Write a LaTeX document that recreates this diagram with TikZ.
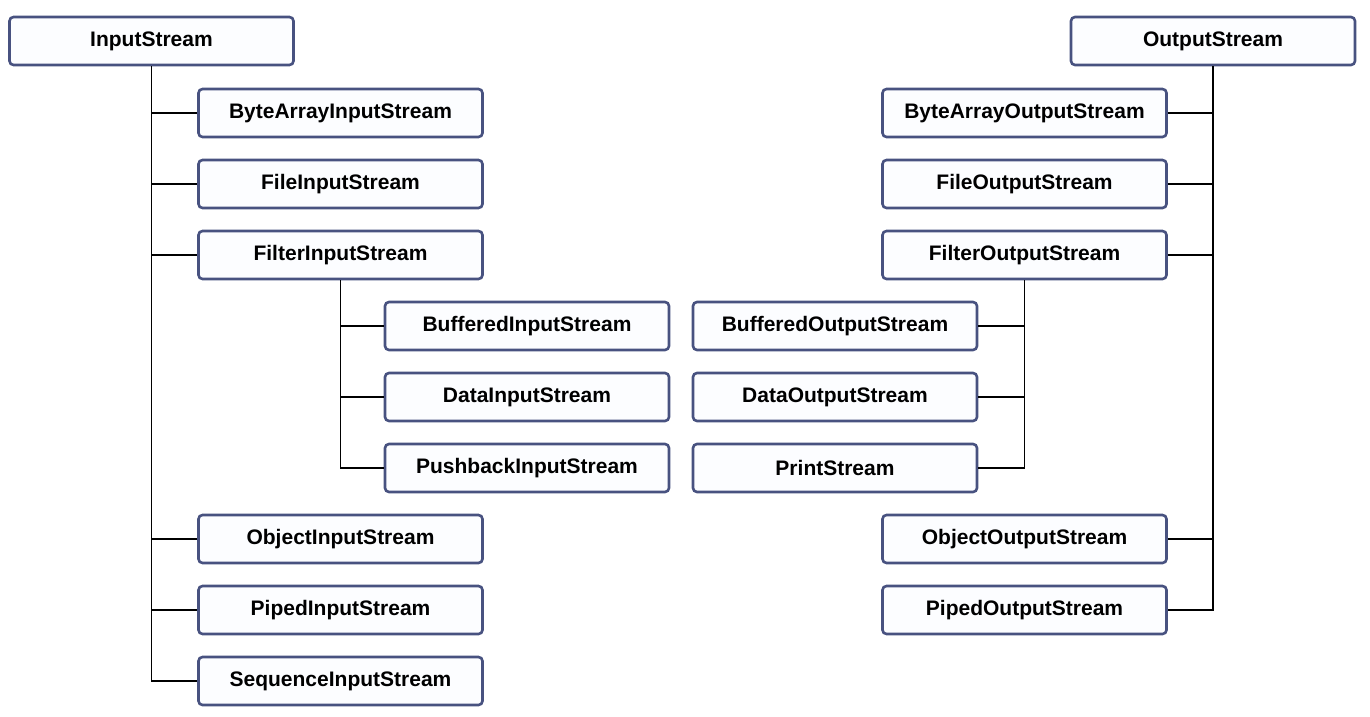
\documentclass[tikz,border=0pt]{standalone}
\usepackage{fontspec}
\setmainfont{Liberation Sans}
\usepackage{xcolor}
\usepackage{tikz}
\usetikzlibrary{positioning}
\definecolor{boxline}{RGB}{72,82,128}
\definecolor{boxfill}{RGB}{252,253,255}
\tikzstyle{stream} = [rectangle, rounded corners=4pt, minimum width=284pt, minimum height=48pt, text centered, draw=boxline, line width=2.6pt, fill=boxfill, font=\fontsize{21}{25}\selectfont\bfseries]
\tikzstyle{line} = [draw, line width=1.8pt, black]

\begin{document}
\begin{tikzpicture}[x=1pt, y=-1pt, node distance=71pt]
   \useasboundingbox (0,0) rectangle (1370,717);
   % input side
   \node (in) [stream] at (151.5,41) {InputStream};
   \node (bain) [stream] at (340.5,113) {ByteArrayInputStream};
   \node (filein) [stream, below of=bain] {FileInputStream};
   \node (filterin) [stream, below of=filein] {FilterInputStream};
   \node (bufin) [stream] at (527,326) {BufferedInputStream};
   \node (datain) [stream, below of=bufin] {DataInputStream};
   \node (pushin) [stream, below of=datain] {PushbackInputStream};
   \node (objin) [stream] at (340.5,539) {ObjectInputStream};
   \node (pipein) [stream, below of=objin] {PipedInputStream};
   \node (seqin) [stream, below of=pipein] {SequenceInputStream};
   % output side
   \node (out) [stream] at (1213,41) {OutputStream};
   \node (baout) [stream] at (1024.5,113) {ByteArrayOutputStream};
   \node (fileout) [stream, below of=baout] {FileOutputStream};
   \node (filterout) [stream, below of=fileout] {FilterOutputStream};
   \node (bufout) [stream] at (835,326) {BufferedOutputStream};
   \node (dataout) [stream, below of=bufout] {DataOutputStream};
   \node (print) [stream, below of=dataout] {PrintStream};
   \node (objout) [stream] at (1024.5,539) {ObjectOutputStream};
   \node (pipeout) [stream, below of=objout] {PipedOutputStream};
   % connectors
   \path [line] (in.south) |- (seqin.west);
   \foreach \n in {bain, filein, filterin, objin, pipein}
      \path [line] (in.south |- \n.west) -- (\n.west);
   \path [line] (filterin.south) |- (pushin.west);
   \foreach \n in {bufin, datain}
      \path [line] (filterin.south |- \n.west) -- (\n.west);
   \path [line] (out.south) |- (pipeout.east);
   \foreach \n in {baout, fileout, filterout, objout}
      \path [line] (out.south |- \n.east) -- (\n.east);
   \path [line] (filterout.south) |- (print.east);
   \foreach \n in {bufout, dataout}
      \path [line] (filterout.south |- \n.east) -- (\n.east);
\end{tikzpicture}
\end{document}
